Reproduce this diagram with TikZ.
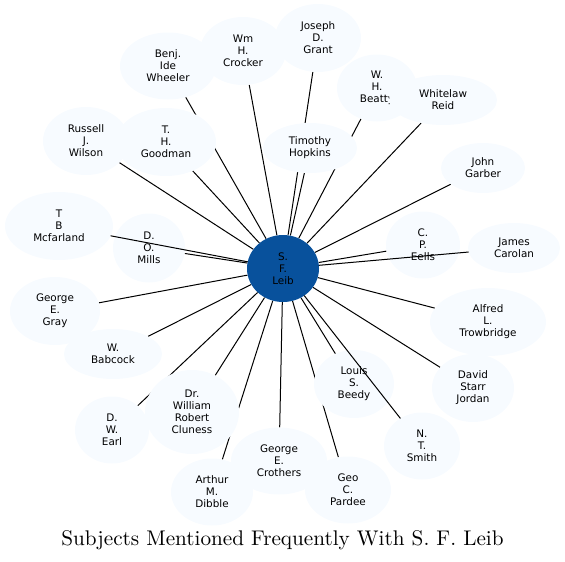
\documentclass[tikz,border=0pt]{standalone}
\usepackage{fontspec}
\usetikzlibrary{shapes.geometric,backgrounds}
\newfontfamily\labelfont{DejaVu Sans}
\newfontfamily\titlefont{lmroman10-regular}[Extension=.otf]
\definecolor{leibblue}{HTML}{08519C}
\definecolor{paleblue}{HTML}{F7FBFF}
\tikzset{
  subj/.style={ellipse,fill=paleblue,inner sep=0pt,align=center,
    font=\labelfont\fontsize{10.4}{12}\selectfont},
  hub/.style={subj,fill=leibblue},
  link/.style={line width=1pt}
}
\begin{document}
\begin{tikzpicture}[x=1pt,y=-1pt,line cap=round]
  \useasboundingbox (0,0) rectangle (565,562);
  \node[hub,minimum width=72,minimum height=67] (leib) at (283,268.5) {S.\\F.\\Leib};
  \node[subj,minimum width=86,minimum height=68] (grant) at (318,38) {Joseph\\D.\\Grant};
  \node[subj,minimum width=96,minimum height=67] (wheeler) at (168,66) {Benj.\\Ide\\Wheeler};
  \node[subj,minimum width=86,minimum height=68] (crocker) at (243,51) {Wm\\H.\\Crocker};
  \node[subj,minimum width=86,minimum height=68] (wilson) at (86,141) {Russell\\J.\\Wilson};
  \node[subj,minimum width=100,minimum height=68] (goodman) at (166,142) {T.\\H.\\Goodman};
  \node[subj,minimum width=94,minimum height=50] (hopkins) at (310,148) {Timothy\\Hopkins};
  \node[subj,minimum width=80,minimum height=67] (beatty) at (377,88) {W.\\H.\\Beatty};
  \node[subj,minimum width=108,minimum height=50] (reid) at (443,100) {Whitelaw\\Reid};
  \node[subj,minimum width=84,minimum height=50] (garber) at (483,168) {John\\Garber};
  \node[subj,minimum width=74,minimum height=67] (eells) at (423,245) {C.\\P.\\Eells};
  \node[subj,minimum width=92,minimum height=50] (carolan) at (514,248) {James\\Carolan};
  \node[subj,minimum width=116,minimum height=68] (trowbridge) at (488,322) {Alfred\\L.\\Trowbridge};
  \node[subj,minimum width=82,minimum height=68] (jordan) at (473,388) {David\\Starr\\Jordan};
  \node[subj,minimum width=80,minimum height=68] (beedy) at (354,384) {Louis\\S.\\Beedy};
  \node[subj,minimum width=76,minimum height=67] (smith) at (422,446) {N.\\T.\\Smith};
  \node[subj,minimum width=96,minimum height=67] (crothers) at (279,461) {George\\E.\\Crothers};
  \node[subj,minimum width=86,minimum height=67] (pardee) at (348,490) {Geo\\C.\\Pardee};
  \node[subj,minimum width=82,minimum height=67] (dibble) at (212,492) {Arthur\\M.\\Dibble};
  \node[subj,minimum width=74,minimum height=67] (earl) at (112,430) {D.\\W.\\Earl};
  \node[subj,minimum width=94,minimum height=84] (cluness) at (192,412) {Dr.\\William\\Robert\\Cluness};
  \node[subj,minimum width=90,minimum height=68] (gray) at (55,311) {George\\E.\\Gray};
  \node[subj,minimum width=98,minimum height=50] (babcock) at (113,354) {W.\\Babcock};
  \node[subj,minimum width=108,minimum height=68] (mcfarland) at (59,226) {T\\B\\Mcfarland};
  \node[subj,minimum width=72,minimum height=69] (mills) at (149,248) {D.\\O.\\Mills};
  \begin{scope}[on background layer]
    \foreach \n in {grant,wheeler,crocker,wilson,goodman,hopkins,beatty,reid,garber,eells,
      trowbridge,jordan,beedy,crothers,pardee,dibble,earl,cluness,gray,babcock,mills}
      \draw[link] (leib) -- (\n);
  \end{scope}
  \draw[link] (leib) -- (carolan);
  \draw[link] (leib) -- (mcfarland);
  \draw[link] (leib) -- (smith);
  \node[font=\titlefont\fontsize{21.2}{25}\selectfont] (title) at (282.5,540) {Subjects Mentioned Frequently With S. F. Leib};
\end{tikzpicture}
\end{document}
